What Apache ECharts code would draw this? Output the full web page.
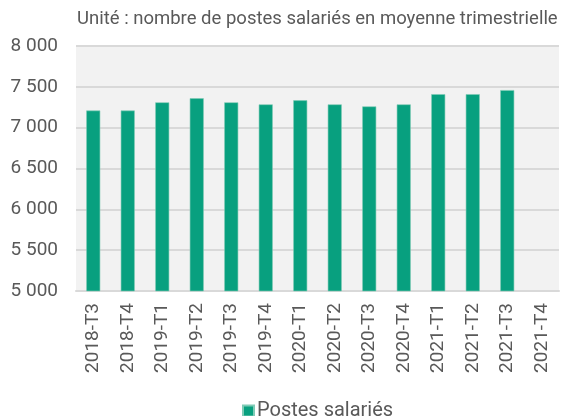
<!DOCTYPE html>
<html>
<head>
<meta charset="utf-8">
<script src="https://cdn.jsdelivr.net/npm/echarts@6/dist/echarts.min.js"></script>
<style>
  html, body { margin: 0; padding: 0; background: #fff; }
  #chart { width: 565px; height: 416px; }
</style>
</head>
<body>
<div id="chart"></div>
<script>
// quarters on the x axis
var quarters = ['2018-T3', '2018-T4', '2019-T1', '2019-T2', '2019-T3', '2019-T4',
  '2020-T1', '2020-T2', '2020-T3', '2020-T4', '2021-T1', '2021-T2', '2021-T3', '2021-T4'];
// postes salariés (moyenne trimestrielle), last quarter not published yet
var postes = [7210, 7210, 7310, 7360, 7310, 7285, 7335, 7285, 7260, 7285, 7410, 7410, 7460, null];
var seriesName = 'Postes salariés';
var titleText = 'Unité : nombre de postes salariés en moyenne trimestrielle';

var txt = '#595959';
var chart = echarts.init(document.getElementById('chart'));

chart.setOption({
  animation: false,
  textStyle: { fontFamily: 'Roboto' },
  title: {
    text: titleText,
    left: 72, top: 5,
    textStyle: { fontSize: 18.5, fontWeight: 'normal', color: txt, fontFamily: 'Roboto' }
  },
  legend: {
    data: [seriesName],
    top: 396, left: 237,
    itemWidth: 11, itemHeight: 11, itemGap: 4,
    icon: 'rect',
    textStyle: { fontSize: 20, color: txt, fontFamily: 'Roboto', padding: [0, 0, 0, -2] }
  },
  grid: {
    left: 76, right: 6, top: 46, bottom: 125,
    show: true, backgroundColor: '#f2f2f2', borderWidth: 0
  },
  xAxis: {
    type: 'category',
    data: quarters,
    axisLine: { show: true, lineStyle: { color: '#d9d9d9', width: 2 } },
    axisTick: { show: false },
    axisLabel: { rotate: 90, color: txt, fontSize: 19, margin: 12, fontFamily: 'Roboto' }
  },
  yAxis: {
    type: 'value',
    min: 5000, max: 8000, interval: 500,
    axisLine: { show: false },
    axisTick: { show: false },
    splitLine: { lineStyle: { color: '#d9d9d9', width: 2 } },
    axisLabel: {
      color: txt, fontSize: 19, margin: 18, fontFamily: 'Roboto',
      formatter: function (v) { return String(v).replace(/\B(?=(\d{3})+(?!\d))/g, ' '); }
    }
  },
  series: [{
    name: seriesName,
    type: 'bar',
    data: postes,
    barWidth: 14,
    itemStyle: { color: '#08a07f', borderColor: '#7fcbb6', borderWidth: 0.6 }
  }]
});
</script>
</body>
</html>
